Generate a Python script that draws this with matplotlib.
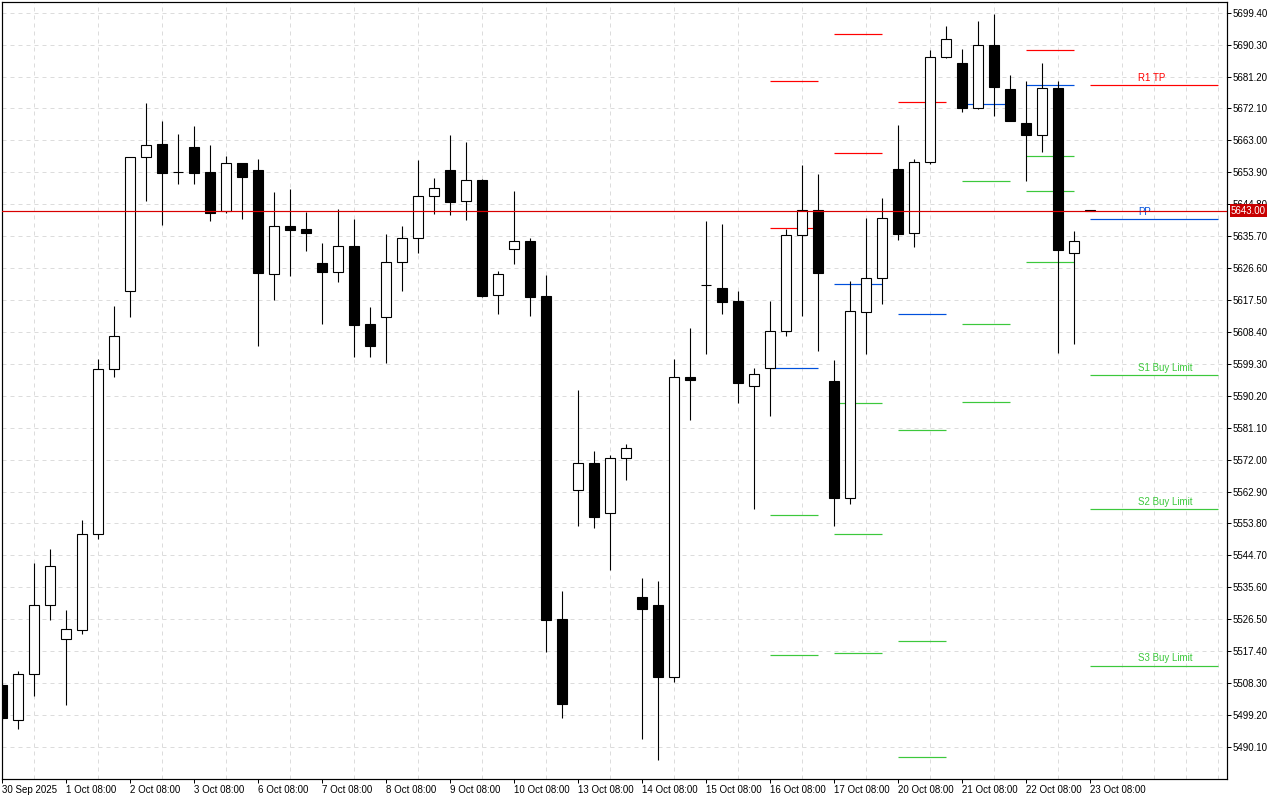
import numpy as np
import matplotlib
matplotlib.use("Agg")
import matplotlib.pyplot as plt
import matplotlib.transforms as mtransforms

# ---- candle data (one candle per slot, 4 slots per day) ----
opens = [5507.8, 5497.7, 5510.8, 5530.5, 5521.0, 5523.5, 5550.7, 5597.8, 5620.0, 5658.2,
         5662.0, 5653.9, 5661.1, 5654.0, 5642.8, 5656.5, 5654.6, 5624.8, 5638.6, 5637.7,
         5628.1, 5625.6, 5632.8, 5610.7, 5612.6, 5628.3, 5635.1, 5647.1, 5654.6, 5645.6,
         5651.7, 5618.8, 5632.0, 5634.3, 5618.7, 5526.6, 5563.3, 5571.0, 5556.7, 5572.4,
         5532.8, 5530.5, 5510.0, 5595.5, 5621.7, 5620.9, 5617.2, 5592.9, 5598.0, 5608.6,
         5636.0, 5643.1, 5594.4, 5561.2, 5614.2, 5623.7, 5654.8, 5636.5, 5656.8, 5686.7,
         5685.1, 5672.3, 5690.2, 5677.6, 5667.9, 5664.6, 5677.9, 5631.0, 5643.2]
highs = [5508.2, 5511.7, 5542.6, 5546.5, 5529.1, 5554.8, 5600.7, 5615.8, 5658.3, 5673.7,
         5668.5, 5664.8, 5667.1, 5661.7, 5658.6, 5656.6, 5657.7, 5648.3, 5649.1, 5642.6,
         5633.8, 5643.4, 5640.6, 5615.5, 5636.3, 5638.6, 5657.4, 5652.3, 5664.5, 5662.5,
         5652.0, 5625.7, 5648.6, 5635.2, 5624.6, 5534.6, 5591.9, 5574.5, 5573.3, 5576.5,
         5538.2, 5537.4, 5600.7, 5609.4, 5640.0, 5639.1, 5620.1, 5598.0, 5617.2, 5637.8,
         5656.0, 5653.4, 5600.4, 5622.9, 5640.8, 5646.5, 5667.4, 5657.6, 5688.8, 5695.6,
         5689.1, 5697.0, 5698.9, 5681.6, 5679.9, 5685.1, 5679.9, 5637.2, 5643.2]
lows = [5497.9, 5495.2, 5504.7, 5526.4, 5502.1, 5522.4, 5549.5, 5595.6, 5612.7, 5645.7,
        5638.9, 5650.7, 5650.7, 5640.1, 5642.2, 5640.7, 5604.5, 5617.6, 5624.4, 5631.6,
        5610.8, 5622.7, 5601.3, 5601.3, 5599.6, 5620.2, 5631.0, 5642.1, 5641.8, 5640.4,
        5618.5, 5613.6, 5627.9, 5613.0, 5517.3, 5498.4, 5553.2, 5552.6, 5540.6, 5566.3,
        5492.4, 5486.4, 5508.7, 5583.4, 5602.2, 5613.4, 5588.1, 5558.0, 5584.5, 5607.3,
        5613.0, 5603.1, 5553.2, 5559.4, 5602.2, 5616.5, 5634.7, 5632.7, 5656.4, 5686.5,
        5671.2, 5672.0, 5670.0, 5668.4, 5651.5, 5659.8, 5602.3, 5605.0, 5643.0]
closes = [5498.4, 5510.8, 5530.5, 5541.7, 5523.6, 5550.7, 5597.8, 5607.2, 5658.2, 5661.6,
          5653.8, 5653.9, 5653.8, 5642.4, 5656.5, 5652.7, 5625.3, 5638.5, 5637.5, 5636.7,
          5625.6, 5632.8, 5610.5, 5604.5, 5628.3, 5635.1, 5647.1, 5649.3, 5645.5, 5651.6,
          5618.7, 5624.8, 5634.3, 5618.4, 5526.4, 5502.4, 5571.0, 5555.7, 5572.4, 5575.2,
          5529.5, 5510.0, 5595.5, 5594.8, 5621.7, 5617.0, 5593.9, 5596.3, 5608.6, 5636.0,
          5643.1, 5625.3, 5561.2, 5614.3, 5623.7, 5640.8, 5636.4, 5656.8, 5686.7, 5691.8,
          5672.3, 5690.2, 5678.3, 5668.6, 5664.6, 5677.9, 5631.8, 5634.2, 5643.0]

x_labels = ['30 Sep 2025', '1 Oct 08:00', '2 Oct 08:00', '3 Oct 08:00', '6 Oct 08:00',
            '7 Oct 08:00', '8 Oct 08:00', '9 Oct 08:00', '10 Oct 08:00', '13 Oct 08:00',
            '14 Oct 08:00', '15 Oct 08:00', '16 Oct 08:00', '17 Oct 08:00', '20 Oct 08:00',
            '21 Oct 08:00', '22 Oct 08:00', '23 Oct 08:00']

current_price = 5643.00

# ---- daily pivot levels (nan = off the chart) ----
nan = np.nan
seg_start = [48, 52, 56, 60, 64, 68]
seg_end = [51, 55, 59, 63, 67, 76]
r2_levels = [5679.8, 5693.3, nan, nan, nan, nan]
r1_levels = [5637.9, 5659.3, 5673.9, nan, 5688.7, 5678.7]
pp_levels = [5598.0, 5622.0, 5613.4, 5673.3, 5678.7, 5640.5]
s1_levels = [5556.1, 5588.1, 5580.4, 5651.3, 5658.6, 5596.0]
s2_levels = [5516.2, 5550.7, 5520.3, 5610.7, 5648.5, 5557.8]
s3_levels = [nan, 5516.8, 5487.1, 5588.3, 5628.3, 5513.1]

level_names = ['R1 TP', 'PP', 'S1 Buy Limit', 'S2 Buy Limit', 'S3 Buy Limit']

RED = '#ff0000'
BLUE = '#0050dc'
GREEN = '#3cc83c'
PX = 0.72  # one pixel in points at 100 dpi
FONT = ['Liberation Sans', 'DejaVu Sans']


def draw_candles(ax):
    x = np.arange(len(opens))
    o = np.array(opens)
    c = np.array(closes)
    ax.vlines(x, lows, highs, color='black', linewidth=PX * 1.1, zorder=3)
    fills = ['white' if cc >= oo else 'black' for oo, cc in zip(o, c)]
    ax.bar(x, c - o, bottom=o, width=0.62, color=fills, edgecolor='black',
           linewidth=PX * 1.1, zorder=4)


def draw_levels(ax):
    groups = [(r2_levels, RED), (r1_levels, RED), (pp_levels, BLUE),
              (s1_levels, GREEN), (s2_levels, GREEN), (s3_levels, GREEN)]
    for vals, col in groups:
        for x0, x1, v in zip(seg_start, seg_end, vals):
            if np.isnan(v):
                continue
            ax.hlines(v, x0, x1, color=col, linewidth=PX * 1.2, zorder=2)

    # labels on the latest day
    last = [r1_levels[-1], pp_levels[-1], s1_levels[-1], s2_levels[-1], s3_levels[-1]]
    cols = [RED, BLUE, GREEN, GREEN, GREEN]
    for name, v, col in zip(level_names, last, cols):
        ax.annotate(name, (71, v), xytext=(0, 2), textcoords='offset points',
                    color=col, fontsize=7, va='bottom', ha='left',
                    family=FONT, zorder=5)


def main():
    fig = plt.figure(figsize=(12.8, 8), dpi=100)
    ax = fig.add_axes([2.3 / 1280, 21 / 800, 1225 / 1280, 777 / 800])

    ax.set_xlim(0, 76.56)
    ax.set_ylim(5480.96, 5702.45)

    # grid
    yt = 5490.1 + 9.1 * np.arange(24)
    ax.set_yticks(yt)
    ax.set_yticklabels(['%.2f' % v for v in yt])
    ax.set_xticks(np.arange(0, 69, 4))
    ax.set_xticklabels(x_labels)
    ax.set_xticks(np.arange(0, 77, 2), minor=True)
    ax.grid(True, which='major', axis='y', color='#dcdcdc', linewidth=PX,
            linestyle=(0, (4, 4)), zorder=0)
    ax.grid(True, which='minor', axis='x', color='#dcdcdc', linewidth=PX,
            linestyle=(0, (4, 4)), zorder=0)

    ax.yaxis.tick_right()
    ax.tick_params(axis='y', which='major', direction='out', length=3, width=PX,
                   pad=1, labelsize=7)
    ax.tick_params(axis='x', which='major', direction='out', length=3, width=PX,
                   pad=1.5, labelsize=7)
    ax.tick_params(axis='x', which='minor', length=0)
    for lab in ax.get_xticklabels():
        lab.set_horizontalalignment('left')
        lab.set_family(FONT)
    for lab in ax.get_yticklabels():
        lab.set_family(FONT)

    for sp in ax.spines.values():
        sp.set_linewidth(PX * 1.2)
        sp.set_color('black')

    draw_levels(ax)
    draw_candles(ax)

    # current price line + label box
    ax.axhline(current_price, color='#d80000', linewidth=PX * 1.2, zorder=5)
    trans = mtransforms.blended_transform_factory(ax.transAxes, ax.transData)
    ax.text(1.003, current_price, '%.2f' % current_price, transform=trans,
            color='white', fontsize=7, va='center', ha='left',
            family=FONT, clip_on=False, zorder=10,
            bbox=dict(boxstyle='square,pad=0.15', fc='#c80000', ec='none'))

    fig.savefig('out.png', dpi=100)


if __name__ == "__main__":
    main()
